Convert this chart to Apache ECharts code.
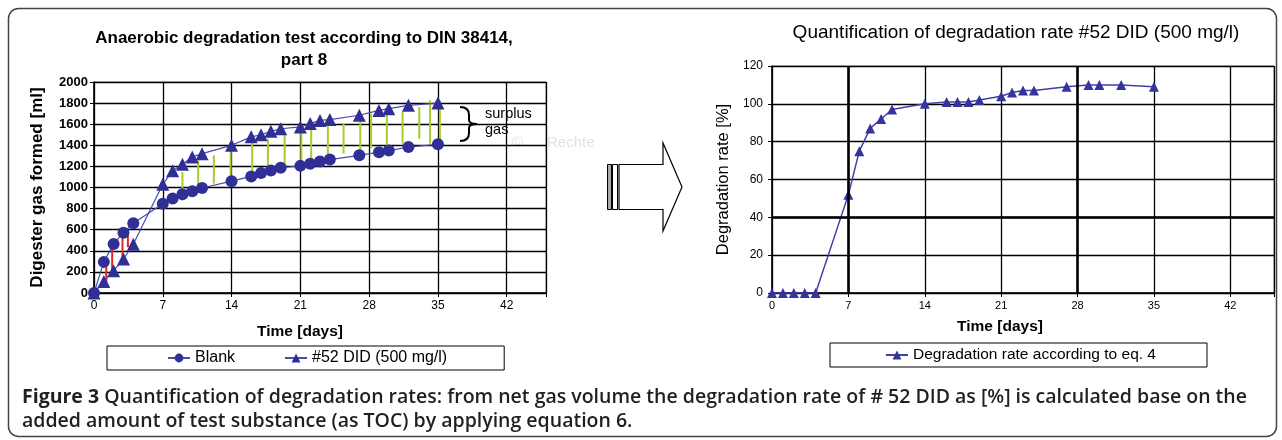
<!DOCTYPE html>
<html><head><meta charset="utf-8">
<script src="https://cdn.jsdelivr.net/npm/echarts@6/dist/echarts.min.js"></script>
<style>html,body{margin:0;padding:0;background:#fff}#c{width:1282px;height:440px}</style>
</head><body><div id="c"></div>
<script>
// ---- data ----
const days = [0,1,2,3,4,7,8,9,10,11,14,16,17,18,19,21,22,23,24,27,29,30,32,35];
const blank = [0,295,465,572,662,845,895,935,965,995,1060,1105,1137,1162,1187,1205,1225,1247,1265,1305,1335,1350,1383,1410];
const sample = [0,110,212,322,462,1030,1158,1220,1290,1321,1400,1480,1500,1532,1557,1574,1606,1636,1644,1685,1731,1747,1779,1800];
const degradation = [0,0,0,0,0,52,75,87,92,97,100,101,101,101,102,104,106,107,107,109,110,110,110,109];
const xTickLabels = [0,7,14,21,28,35,42];
const surplusGreen = [[9.0,877,1147],[10.6,1005,1258],[12.2,1037,1305],[13.9,1037,1431],[16.1,1138,1463],[17.7,1132,1463],[19.4,1195,1511],[21.1,1195,1558],[22.1,1226,1637],[23.8,1290,1653],[25.4,1321,1606],[27.1,1337,1669],[28.2,1369,1700],[29.8,1353,1700],[31.4,1416,1716],[33.1,1463,1763],[34.2,1416,1827],[35.2,1416,1827]];
const surplusRed = [[1.25,105,255],[1.85,200,430],[2.9,320,565],[3.45,435,565]];
const names = {blank:'Blank', sample:'#52 DID (500 mg/l)', rate:'Degradation rate according to eq. 4'};

const F = 'Liberation Sans, Arial, sans-serif';
const CF = 'Open Sans, Noto Sans, sans-serif';
const chart = echarts.init(document.getElementById('c'));

function xAxisCfg(gi, labelSize, nameSize, nameGap, padRight){
  return {
    type:'value', gridIndex:gi, min:0, max:46, interval:7,
    axisLine:{show:true, onZero:false, lineStyle:{color:'#000', width:1.5}},
    axisTick:{show:true, length:4, lineStyle:{color:'#000'}},
    axisLabel:{formatter:v => xTickLabels.includes(v) ? String(v) : '', fontFamily:F, fontSize:labelSize, color:'#000', margin:7},
    splitLine:{show:true, lineStyle:{color:'#000', width:1.3}},
    name:'Time [days]', nameLocation:'middle', nameGap:nameGap,
    nameTextStyle:{fontFamily:F, fontWeight:'bold', fontSize:nameSize, color:'#000', padding:[0,padRight,0,0]}
  };
}
function lineSegRender(color){
  return function(params, api){
    const p1 = api.coord([api.value(0), api.value(1)]);
    const p2 = api.coord([api.value(0), api.value(2)]);
    return {type:'line', shape:{x1:p1[0],y1:p1[1],x2:p2[0],y2:p2[1]}, style:{stroke:color, lineWidth:2}};
  };
}
const braceStyle = {stroke:'#000', lineWidth:2, fill:'none'};

const option = {
  backgroundColor:'#fff',
  animation:false,
  grid:[
    {left:94, top:82, width:452, height:211, show:true, borderColor:'#888', borderWidth:1},
    {left:772, top:66, width:502, height:227, show:true, borderColor:'#888', borderWidth:1}
  ],
  xAxis:[ xAxisCfg(0,12,15.5,31,40), xAxisCfg(1,11,15.5,26,46) ],
  yAxis:[
    {type:'value', gridIndex:0, min:0, max:2000, interval:200,
     axisLine:{show:true, lineStyle:{color:'#000', width:1.5}},
     axisTick:{show:true, length:4, lineStyle:{color:'#000'}},
     axisLabel:{formatter:v => String(v), fontFamily:F, fontSize:13, color:'#000', margin:6, fontWeight:'bold'},
     splitLine:{show:true, lineStyle:{color:'#000', width:1.3}},
     name:'Digester gas formed [ml]', nameLocation:'middle', nameGap:48,
     nameTextStyle:{fontFamily:F, fontWeight:'bold', fontSize:17, color:'#000'}},
    {type:'value', gridIndex:1, min:0, max:120, interval:20,
     axisLine:{show:true, lineStyle:{color:'#000', width:1.5}},
     axisTick:{show:true, length:4, lineStyle:{color:'#000'}},
     axisLabel:{formatter:v => String(v), fontFamily:F, fontSize:12, color:'#000', margin:9},
     splitLine:{show:true, lineStyle:{color:'#000', width:1.3}},
     name:'Degradation rate [%]', nameLocation:'middle', nameGap:40,
     nameTextStyle:{fontFamily:F, fontSize:16.5, color:'#000'}}
  ],
  legend:[
    {data:[names.blank, names.sample], left:107, top:346, orient:'horizontal',
     borderColor:'#000', borderWidth:1, padding:[4,57,4,60], itemGap:49,
     itemWidth:22, itemHeight:11, textStyle:{fontFamily:F, fontSize:16, color:'#000'}},
    {data:[names.rate], left:830, top:343,
     borderColor:'#000', borderWidth:1, padding:[4,51,4,55],
     itemWidth:22, itemHeight:11, textStyle:{fontFamily:F, fontSize:15.5, color:'#000'}}
  ],
  series:[
    {type:'custom', xAxisIndex:0, yAxisIndex:0, z:1, silent:true, renderItem:lineSegRender('#a6cc2e'),
     encode:{x:0, y:[1,2]}, data:surplusGreen},
    {type:'custom', xAxisIndex:0, yAxisIndex:0, z:1, silent:true, renderItem:lineSegRender('#e82424'),
     encode:{x:0, y:[1,2]}, data:surplusRed},
    {name:names.blank, type:'line', xAxisIndex:0, yAxisIndex:0, z:3,
     data:days.map((d,i)=>[d,blank[i]]), symbol:'circle', symbolSize:12,
     itemStyle:{color:'#2f2f96'}, lineStyle:{color:'#4a4ab2', width:1.2}},
    {name:names.sample, type:'line', xAxisIndex:0, yAxisIndex:0, z:3,
     data:days.map((d,i)=>[d,sample[i]]), symbol:'triangle', symbolSize:13,
     itemStyle:{color:'#2f2f96'}, lineStyle:{color:'#4a4ab2', width:1.2}},
    {type:'line', xAxisIndex:1, yAxisIndex:1, z:1, data:[], silent:true,
     markLine:{silent:true, symbol:['none','none'], label:{show:false},
       lineStyle:{color:'#000', width:2.6, type:'solid'},
       data:[{xAxis:7},{xAxis:28},{yAxis:40}]}},
    {name:names.rate, type:'line', xAxisIndex:1, yAxisIndex:1, z:3,
     data:days.map((d,i)=>[d,degradation[i]]), symbol:'triangle', symbolSize:10,
     itemStyle:{color:'#34349c'}, lineStyle:{color:'#4040aa', width:1.5}}
  ],
  graphic:[
    {type:'rect', shape:{x:8.5, y:8.5, width:1268, height:428, r:10}, style:{fill:'none', stroke:'#444', lineWidth:1.5}, z:0},
    // titles
    {type:'text', x:304, y:49, style:{text:'Anaerobic degradation test according to DIN 38414,\npart 8', align:'center', verticalAlign:'middle', lineHeight:22, font:'bold 17px '+F, fill:'#000'}},
    {type:'text', x:1016, y:33, style:{text:'Quantification of degradation rate #52 DID (500 mg/l)', align:'center', verticalAlign:'middle', font:'19px '+F, fill:'#000'}},
    // surplus brace
    {type:'bezierCurve', shape:{x1:460,y1:107,x2:469,y2:115,cpx1:469,cpy1:107}, style:braceStyle},
    {type:'line', shape:{x1:469,y1:115,x2:469,y2:120}, style:braceStyle},
    {type:'bezierCurve', shape:{x1:469,y1:120,x2:477,y2:124,cpx1:469,cpy1:124}, style:braceStyle},
    {type:'bezierCurve', shape:{x1:477,y1:124,x2:469,y2:128,cpx1:469,cpy1:124}, style:braceStyle},
    {type:'line', shape:{x1:469,y1:128,x2:469,y2:133}, style:braceStyle},
    {type:'bezierCurve', shape:{x1:469,y1:133,x2:460,y2:141,cpx1:469,cpy1:141}, style:braceStyle},
    {type:'text', x:485, y:114, style:{text:'surplus', verticalAlign:'middle', font:'14.5px '+F, fill:'#000'}},
    {type:'text', x:485, y:130, style:{text:'gas', verticalAlign:'middle', font:'14.5px '+F, fill:'#000'}},
    // faint watermark
    {type:'text', x:512, y:143, style:{text:'©', verticalAlign:'middle', font:'15px '+F, fill:'#e6e6e6'}},
    {type:'text', x:547, y:143, style:{text:'Rechte', verticalAlign:'middle', font:'15px '+F, fill:'#e2e2e2'}},
    // arrow
    {type:'rect', shape:{x:607.5, y:164.5, width:4, height:45}, style:{fill:'#aaa', stroke:'#000', lineWidth:1}},
    {type:'rect', shape:{x:612.5, y:164.5, width:5, height:45}, style:{fill:'#fff', stroke:'#000', lineWidth:1}},
    {type:'polygon', shape:{points:[[619,164.5],[663,164.5],[663,143],[682,187],[663,231],[663,209.5],[619,209.5]]}, style:{fill:'#fff', stroke:'#000', lineWidth:1.2}},
    // caption
    {type:'text', x:22, y:397, style:{text:'{b|Figure 3} Quantification of degradation rates: from net gas volume the degradation rate of # 52 DID as [%] is calculated base on the', verticalAlign:'middle', font:'600 19.5px '+CF, fill:'#231f20',
      rich:{b:{font:'bold 19.5px '+CF, fill:'#231f20'}}}},
    {type:'text', x:22, y:421, style:{text:'added amount of test substance (as TOC) by applying equation 6.', verticalAlign:'middle', font:'600 19.5px '+CF, fill:'#231f20'}}
  ]
};
chart.setOption(option);
</script>
</body></html>
